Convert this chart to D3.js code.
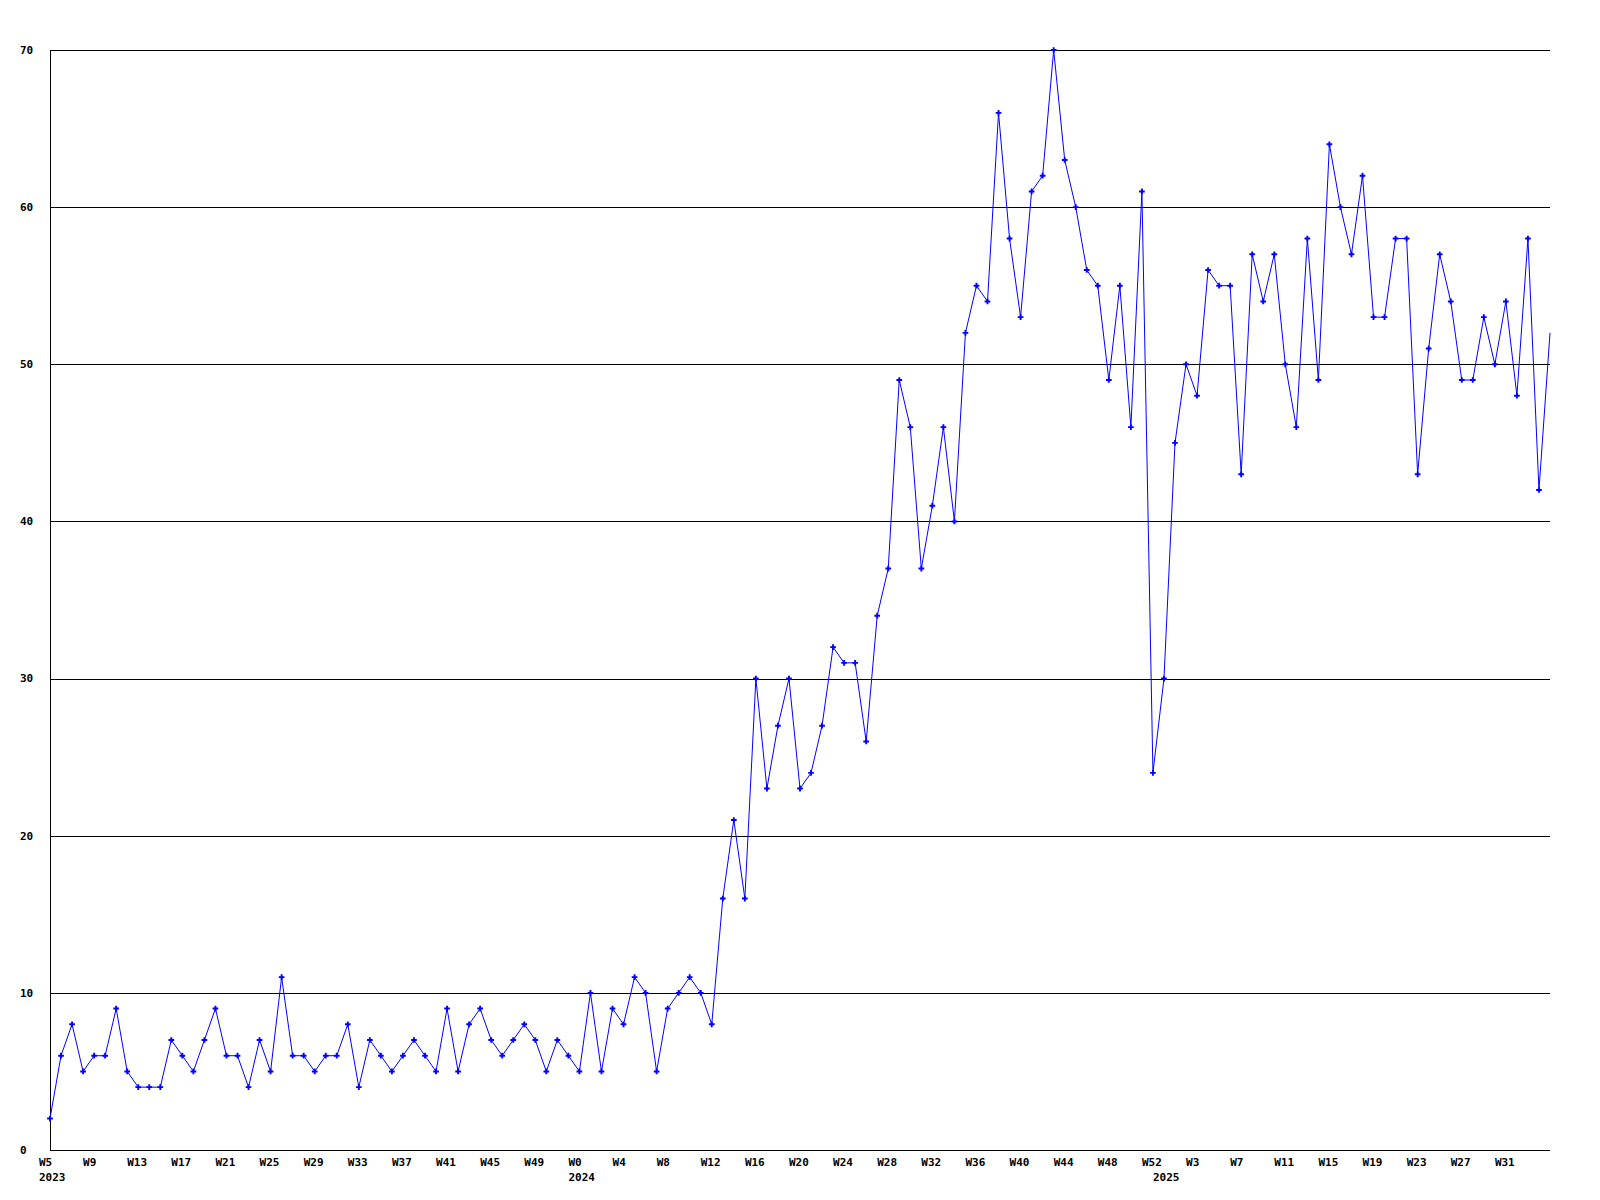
<!DOCTYPE html>
<html>
<head>
<meta charset="utf-8">
<script src="https://cdn.jsdelivr.net/npm/d3@7"></script>
<style>
  html, body { margin: 0; padding: 0; background: #fff; }
  text { font-family: "DejaVu Sans Mono", "Liberation Mono", monospace; font-weight: bold; font-size: 11px; fill: #000; }
</style>
</head>
<body>
<svg id="chart" width="1600" height="1200"></svg>
<script>
// Weekly values, W5 2023 .. W35 2025 (137 weeks)
const values = [
  2, 6, 8, 5, 6, 6, 9, 5, 4, 4, 4, 7, 6, 5, 7, 9, 6, 6, 4, 7,
  5, 11, 6, 6, 5, 6, 6, 8, 4, 7, 6, 5, 6, 7, 6, 5, 9, 5, 8, 9,
  7, 6, 7, 8, 7, 5, 7, 6, 5, 10, 5, 9, 8, 11, 10, 5, 9, 10, 11, 10,
  8, 16, 21, 16, 30, 23, 27, 30, 23, 24, 27, 32, 31, 31, 26, 34, 37, 49, 46, 37,
  41, 46, 40, 52, 55, 54, 66, 58, 53, 61, 62, 70, 63, 60, 56, 55, 49, 55, 46, 61,
  24, 30, 45, 50, 48, 56, 55, 55, 43, 57, 54, 57, 50, 46, 58, 49, 64, 60, 57, 62,
  53, 53, 58, 58, 43, 51, 57, 54, 49, 49, 53, 50, 54, 48, 58, 42, 52
];

// x tick labels (every 4th week index)
const xTickIndex = [0, 4, 8, 12, 16, 20, 24, 28, 32, 36, 40, 44, 48, 52, 56, 60, 64, 68, 72, 76, 80, 84, 88, 92, 96, 100, 104, 108, 112, 116, 120, 124, 128, 132];
const xTickLabels = ["W5", "W9", "W13", "W17", "W21", "W25", "W29", "W33", "W37", "W41", "W45", "W49",
  "W0", "W4", "W8", "W12", "W16", "W20", "W24", "W28", "W32", "W36", "W40", "W44", "W48", "W52",
  "W3", "W7", "W11", "W15", "W19", "W23", "W27", "W31"];
// year labels
const yearIndex = [0, 48, 101];
const yearLabels = ["2023", "2024", "2025"];
// y ticks
const yTicks = [0, 10, 20, 30, 40, 50, 60, 70];

const svg = d3.select("#chart");
const pLeft = 50, pRight = 1550, pTop = 50, pBottom = 1150;

const x = d3.scaleLinear().domain([0, values.length - 1]).range([pLeft, pRight]);
const y = d3.scaleLinear().domain([0, 70]).range([pBottom, pTop]);

// gridlines
svg.append("g").selectAll("line").data(yTicks.filter(d => d > 0)).join("line")
  .attr("x1", pLeft).attr("x2", pRight)
  .attr("y1", d => Math.round(y(d)) + 0.5).attr("y2", d => Math.round(y(d)) + 0.5)
  .attr("stroke", "#000").attr("stroke-width", 1).attr("shape-rendering", "crispEdges");

// axes lines
svg.append("line").attr("x1", pLeft + 0.5).attr("x2", pLeft + 0.5).attr("y1", pTop).attr("y2", pBottom + 1)
  .attr("stroke", "#000").attr("shape-rendering", "crispEdges");
svg.append("line").attr("x1", pLeft).attr("x2", pRight).attr("y1", pBottom + 0.5).attr("y2", pBottom + 0.5)
  .attr("stroke", "#000").attr("shape-rendering", "crispEdges");

// y labels
svg.append("g").selectAll("text").data(yTicks).join("text")
  .attr("x", 20).attr("y", d => y(d)).attr("dy", "0.35em")
  .text(d => d);

// x labels
svg.append("g").selectAll("text").data(xTickIndex).join("text")
  .attr("x", d => x(d) - 11).attr("y", 1166)
  .text((d, i) => xTickLabels[i]);

svg.append("g").selectAll("text").data(yearIndex).join("text")
  .attr("x", d => x(d) - 11).attr("y", 1181)
  .text((d, i) => yearLabels[i]);

// line
const line = d3.line().x((d, i) => x(i)).y(d => y(d));
svg.append("path").datum(values).attr("d", line)
  .attr("fill", "none").attr("stroke", "#0000ff").attr("stroke-width", 1);

// markers
const sym = d3.symbol().type(d3.symbolCross).size(18);
svg.append("g").selectAll("path").data(values.slice(0, values.length - 1)).join("path")
  .attr("transform", (d, i) => `translate(${x(i)},${y(d)})`)
  .attr("d", sym).attr("fill", "#0000ff");
</script>
</body>
</html>
